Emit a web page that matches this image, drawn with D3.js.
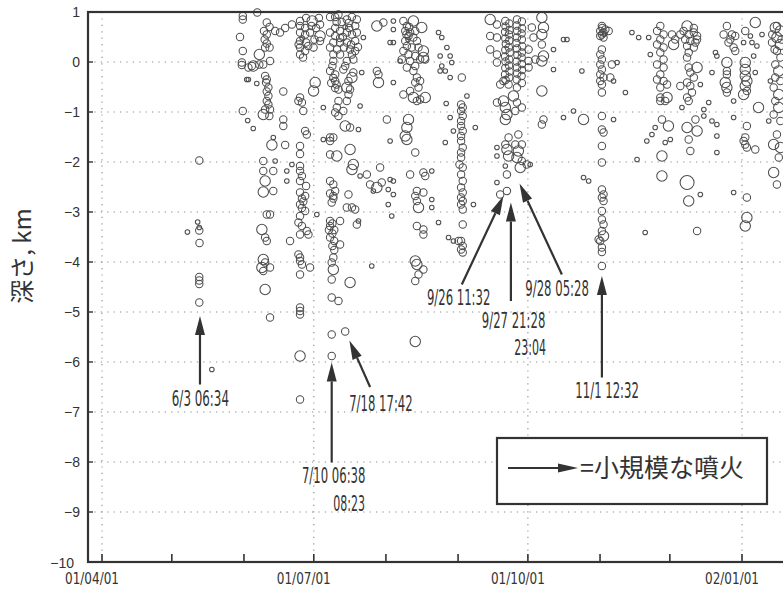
<!DOCTYPE html>
<html><head><meta charset="utf-8">
<script src="https://cdn.jsdelivr.net/npm/d3@7"></script>
<style>
html,body{margin:0;padding:0;background:#fff;}
svg{display:block;}
</style></head><body>
<svg id="chart" width="783" height="589"></svg>
<script>
// ---- data: [days since 2001-04-01, depth (km), size class] ----
const startDate = new Date(2001, 3, 1);
const swarmMay = [[36.7,-3.40,1],[41.1,-3.20,1],[41.8,-3.31,1],[41.8,-3.37,2],[41.9,-3.62,2],[41.8,-1.97,2],[41.8,-4.30,2],[41.8,-4.37,2],[41.8,-4.44,2],[41.8,-4.81,2],[47.2,-6.15,1]];
const swarmJune = [[60.5,0.92,2],[60.5,0.85,2],[66.7,0.99,2],[59.3,0.50,2],[60.5,0.22,2],[60.1,-0.01,2],[60.1,-0.06,2],[64.4,-0.08,2],[62.2,-0.35,1],[62.9,-0.35,1],[66.5,-0.43,1],[60.5,-0.98,2],[62.6,-1.17,1],[65.0,-1.33,1],
[70.8,0.79,2],[72.0,0.70,2],[69.6,0.62,2],[70.8,0.55,2],[69.9,0.45,2],[70.8,0.37,2],[70.1,0.29,2],[72.0,0.29,2],[67.6,0.15,3],[65.0,-0.08,3],[62.9,-0.11,2],[67.6,-0.05,2],[69.3,-0.05,2],[72.2,0.02,2],
[70.1,-0.28,2],[70.8,-0.35,2],[70.5,-0.41,2],[71.5,-0.51,2],[70.8,-0.59,2],[71.5,-0.68,2],[70.8,-0.78,2],[71.5,-0.85,2],[70.1,-0.95,2],[72.2,-0.95,2],[69.3,-1.05,3],[71.9,-1.08,2],
[77.9,-0.59,2],[77.9,-1.15,2],[77.9,-1.28,2],[73.6,-1.51,1],[73.0,-1.66,3],[78.7,-1.66,2],[74.4,0.62,2],[76.5,0.59,2],[78.7,0.68,2],[81.6,0.75,2],
[69.3,-1.98,2],[69.3,-2.18,2],[73.6,-2.18,2],[70.1,-2.38,3],[73.6,-2.58,2],[74.4,-1.98,1],[79.4,-2.18,1],[79.4,-2.38,1],[81.6,-2.05,1],
[69.3,-2.60,3],[70.8,-3.05,2],[72.2,-3.05,2],[68.7,-3.35,3],[70.1,-3.51,2],[70.8,-3.58,2],[69.3,-3.95,3],[70.1,-4.01,2],[68.7,-4.11,3],[72.2,-4.11,2],[69.3,-4.18,2],[70.1,-4.55,3],[72.2,-5.11,2]];
const swarmLateJune = [[85.1,0.82,2],[87.7,0.88,2],[90.3,0.82,3],[93.2,0.88,2],[85.1,0.72,2],[87.3,0.68,2],[90.0,0.72,2],[92.0,0.68,2],[93.7,0.75,2],[85.1,0.59,2],[87.3,0.55,2],[89.4,0.59,2],[93.7,0.52,3],[85.1,0.42,2],[87.7,0.39,2],[91.3,0.45,2],[93.7,0.42,2],[85.1,0.29,2],[87.3,0.22,2],[90.9,0.29,2],[85.1,0.15,2],[86.4,0.09,2],[84.5,0.35,2],[86.0,0.48,1],[88.6,0.32,2],
[91.6,-0.41,3],[90.9,-0.58,3],[85.1,-0.71,2],[84.4,-0.78,2],[85.9,-0.81,2],[86.5,-0.98,2],[95.1,-0.91,1],[87.3,-1.38,2],[88.0,-1.45,2],[85.1,-1.68,2],[85.1,-1.84,2],[85.1,-2.08,2],[85.1,-2.18,2],[85.9,-2.28,2],[85.1,-2.38,2],[87.7,-2.48,2],[85.1,-2.61,2],[87.3,-2.68,2],
[85.9,-2.73,2],[86.5,-2.79,2],[85.1,-2.85,2],[85.9,-2.92,2],[87.3,-2.98,2],[85.1,-3.08,2],[84.4,-3.21,2],[85.9,-3.28,2],[88.0,-3.38,2],[85.1,-3.45,2],[88.7,-3.45,2],[80.8,-3.58,2],[92.3,-3.05,1],
[84.4,-3.85,2],[85.1,-3.91,2],[85.1,-3.98,2],[85.9,-4.05,2],[89.4,-4.11,2],[85.1,-4.25,2],[85.1,-4.91,2],[85.1,-4.98,2],[85.1,-5.05,2],[85.1,-5.88,3],[85.1,-6.75,2]];
const swarmJuly = [[98.0,0.90,2],[100.2,0.90,2],[101.6,0.95,2],[105.2,0.85,2],[107.4,0.90,2],[109.5,0.85,2],[108.8,0.72,2],[106.2,0.68,2],[100.2,0.68,2],[102.3,0.62,2],[98.0,0.59,2],[100.2,0.52,2],[102.3,0.48,2],[105.2,0.59,2],[107.4,0.55,2],[109.5,0.59,2],[108.8,0.42,2],[105.2,0.39,2],[102.3,0.39,2],[99.4,0.39,2],[98.0,0.29,2],[101.0,0.25,2],[104.0,0.29,2],[106.6,0.25,2],[108.8,0.22,2],[99.4,0.15,2],[102.3,0.15,2],[107.4,0.15,2],[103.0,0.80,2],[104.5,0.70,1],[106.0,0.78,2],[100.8,0.80,2],[103.5,0.50,2],[107.0,0.35,2],[110.0,0.30,2],[108.0,0.05,2],
[99.4,0.02,2],[99.0,-0.08,2],[98.0,-0.18,2],[100.2,-0.25,2],[99.4,-0.32,2],[100.2,-0.38,2],[98.5,-0.42,2],[100.8,-0.45,2],[100.2,-0.52,2],[101.6,-0.55,2],[105.2,0.02,2],[104.5,-0.08,2],[103.7,-0.15,2],[108.0,-0.21,2],[107.4,-0.31,3],[105.9,-0.38,2],[105.2,-0.51,3],[106.6,-0.55,2],[111.6,-0.21,1],[112.3,0.49,1],[105.9,-0.65,2],[105.2,-0.78,2],[101.6,-0.78,2],[100.9,-0.91,2],[100.2,-1.01,2],[101.6,-1.08,2],[103.7,-0.98,2],[104.5,-1.28,3],[106.6,-1.31,2],[110.2,-1.35,1],[98.0,-1.51,2],[99.4,-1.51,2],[98.0,-1.58,2],[95.1,-1.55,1],[100.9,-1.88,3],[98.0,-1.85,2],[106.6,-1.75,3],[108.0,-2.05,3],[107.4,-2.15,3],[98.0,-2.38,2],[99.4,-2.45,2],[100.2,-2.58,2],[105.9,-2.65,2],[99.4,-2.68,2],[110.9,-2.28,1],[113.8,-2.25,2],[119.5,-2.11,2],[115.2,-2.45,2],[118.1,-2.51,3],[120.2,-2.41,2],[123.8,-2.35,1],[125.2,-2.38,1],[123.0,-2.55,1],[125.2,-2.65,1],[110.9,-0.88,1],
[98.0,-2.63,2],[99.4,-2.73,2],[98.7,-2.81,2],[98.0,-3.18,2],[99.0,-3.23,2],[98.0,-3.28,2],[99.8,-3.36,2],[97.5,-3.36,2],[99.0,-3.43,2],[98.0,-3.51,2],[99.8,-3.58,2],[99.0,-3.68,2],[99.8,-3.76,2],[102.3,-3.18,2],[102.3,-3.65,2],[105.2,-2.91,2],[107.4,-2.91,2],[108.8,-2.95,2],[109.5,-3.25,2],[110.2,-3.18,1],[99.4,-3.91,2],[98.7,-4.01,2],[99.4,-4.15,3],[98.7,-4.35,2],[106.6,-4.41,3],[98.7,-4.71,2],[101.6,-4.78,2],[98.7,-5.45,2],[104.5,-5.39,2],[98.7,-5.88,2],[115.9,-4.08,1],[123.0,-2.85,1],[124.5,-3.08,1],[116.6,-2.58,1],
[118.1,0.72,3],[120.9,0.79,2],[125.2,0.82,1],[125.2,0.65,1],[123.8,0.39,1],[125.2,0.39,1],[128.1,0.02,1],[118.1,-0.18,2],[118.8,-0.25,2],[118.8,-0.41,3],[125.2,-0.41,1],[122.4,-1.15,2],[123.8,-1.58,1]];
const swarmAugust = [[129.5,0.82,2],[133.8,0.82,3],[131.0,0.72,2],[130.3,0.62,2],[132.4,0.59,2],[134.6,0.62,2],[137.4,0.69,3],[131.7,0.52,2],[133.8,0.49,2],[130.3,0.42,2],[135.3,0.42,2],[131.0,0.32,2],[133.1,0.29,2],[136.0,0.29,2],[138.1,0.22,3],[129.5,0.22,2],[131.7,0.15,2],[134.6,0.12,2],[138.1,0.09,3],[128.8,0.05,2],[132.4,0.02,2],[136.7,0.05,2],[138.9,0.05,2],[131.0,-0.11,2],[134.6,-0.08,2],[133.8,-0.18,2],[135.3,-0.31,2],[136.7,-0.38,2],[134.6,-0.41,2],[136.0,-0.51,2],[132.4,-0.58,2],[129.5,-0.65,2],[133.8,-0.71,3],[136.7,-0.75,2],[138.9,-0.71,3],[135.3,-0.78,2],[130.8,0.55,2],[132.0,0.70,2],[131.5,0.45,1],
[144.6,0.59,1],[146.0,0.49,1],[148.2,0.29,1],[145.3,0.12,1],[149.6,0.12,1],[150.3,-0.01,1],[146.0,-0.08,1],[145.3,-0.18,1],[147.5,-0.18,1],[149.6,-0.31,1],[154.6,-0.31,2],[156.8,-0.68,1],[149.6,-1.11,1],[151.0,-1.38,1],[147.5,-1.61,1],[160.4,-1.31,1],[147.9,-0.83,1],
[154.3,-0.85,2],[155.0,-0.91,2],[154.3,-0.98,2],[155.0,-1.08,2],[154.3,-1.18,2],[154.3,-1.28,2],[155.0,-1.38,2],[154.3,-1.48,2],[154.3,-1.58,2],[155.0,-1.71,2],[154.3,-1.81,2],[154.3,-1.91,2],[153.6,-2.05,2],[155.0,-2.11,2],[154.3,-2.25,2],[155.0,-2.38,2],[154.3,-2.51,2],[155.0,-2.61,2],[154.3,-2.71,2],[155.0,-2.78,2],[154.3,-2.85,2],[155.0,-2.95,2],[155.0,-3.25,2],[154.3,-3.58,2],[155.0,-3.68,2],[154.3,-3.75,2],[155.0,-3.81,2],
[131.7,-1.15,3],[131.0,-1.31,3],[130.3,-1.48,3],[131.0,-1.55,3],[134.6,-1.81,2],[132.4,-2.25,2],[138.1,-2.21,2],[138.9,-2.28,2],[141.7,-2.18,1],[135.3,-2.58,2],[138.1,-2.61,2],
[134.6,-2.68,2],[135.3,-2.78,2],[136.0,-2.91,3],[141.7,-2.75,1],[141.7,-2.91,1],[159.6,-2.85,1],[135.3,-3.28,2],[138.1,-3.35,2],[138.1,-3.45,2],[144.6,-3.21,1],[148.9,-3.51,1],[151.0,-3.58,1],[153.2,-3.58,2],[134.6,-3.98,3],[135.3,-4.05,3],[138.1,-4.15,2],[136.0,-4.25,2],[134.6,-4.38,2],[134.6,-5.59,3]];
const swarmSeptember = [[166.8,0.85,3],[169.7,0.75,2],[166.8,0.52,2],[169.7,0.49,2],[166.8,0.25,2],[169.7,0.15,2],[169.7,-0.01,2],
[173.3,0.82,2],[175.0,0.77,2],[173.4,0.71,2],[175.1,0.64,2],[173.2,0.60,2],[174.9,0.55,2],[173.3,0.47,2],[175.0,0.43,2],[173.5,0.36,2],[174.8,0.29,2],[173.3,0.24,2],[175.2,0.19,2],[173.2,0.11,2],[175.0,0.05,2],[173.4,0.01,2],[174.9,-0.07,2],[173.3,-0.12,2],[175.1,-0.19,2],[173.2,-0.25,2],[175.0,-0.31,2],[173.4,-0.36,2],
[178.3,0.85,2],[180.4,0.81,2],[178.2,0.73,2],[180.5,0.67,2],[178.4,0.62,2],[180.3,0.57,2],[178.3,0.49,2],[180.4,0.45,2],[178.1,0.38,2],[180.6,0.31,2],[178.3,0.27,2],[180.4,0.19,2],[178.5,0.14,2],[180.3,0.09,2],[178.2,0.01,2],[180.4,-0.04,2],[178.3,-0.11,2],[180.5,-0.16,2],[178.4,-0.23,2],[180.3,-0.28,2],[178.2,-0.35,2],[180.4,-0.42,2],[178.3,-0.51,2],
[184.7,0.69,2],[185.4,0.49,2],[183.3,0.25,2],[183.3,0.02,2],[183.3,-0.11,2],[189.0,0.89,3],[189.7,0.69,3],[189.0,0.55,3],[189.0,0.35,2],[189.7,0.12,3],[189.0,0.02,3],[186.2,0.05,2],[189.0,-0.58,3],[194.0,0.25,1],[198.3,0.45,1],[199.8,0.45,1],[194.0,-0.15,1],[206.2,-0.18,1],
[169.7,-0.81,2],[172.5,-0.78,3],[173.3,-0.91,3],[174.0,-1.05,3],[173.3,-1.15,3],[176.8,-0.68,3],[178.3,-0.81,2],[180.4,-0.91,2],[177.6,-0.98,2],[171.1,-0.45,2],[172.5,-0.38,2],[174.7,-0.45,2],
[174.7,-1.51,2],[178.9,-1.45,2],[173.3,-1.65,2],[177.6,-1.65,2],[180.4,-1.65,2],[169.7,-1.71,1],[174.0,-1.75,3],[178.9,-1.78,3],[174.7,-1.88,3],[169.7,-1.88,1],[178.3,-1.91,3],[180.4,-1.98,2],[182.5,-2.05,2],[173.3,-2.08,1],[179.7,-2.11,3],[184.0,-2.05,1],[174.0,-2.25,2],[169.7,-2.41,1],[171.1,-2.65,2],[174.0,-2.58,2],
[202.6,-0.98,1],[198.3,-1.11,1],[206.9,-1.15,3],[189.7,-1.15,2],[189.0,-1.25,2],[206.9,-2.31,1],[209.1,-2.38,1]];
const swarmNovember = [[214.8,0.72,2],[214.1,0.62,2],[215.5,0.59,2],[214.8,0.55,2],[216.3,0.65,2],[217.7,0.62,2],[214.1,0.52,2],[215.5,0.49,2],[215.0,0.68,2],[216.0,0.56,1],[214.8,0.25,2],[214.1,0.15,2],[214.8,0.05,2],[214.1,-0.05,2],[214.8,-0.15,2],[214.1,-0.25,2],[215.5,-0.31,2],[214.1,-0.38,2],[214.8,-0.45,2],[214.8,-0.61,2],[219.1,-0.05,2],[221.3,-0.01,1],[218.4,-0.31,2],[219.8,-0.38,1],[214.8,-1.08,2],[214.8,-1.35,2],[215.5,-1.41,2],[214.8,-1.68,2],[214.8,-2.01,2],[219.8,-1.15,1],
[214.8,-2.55,2],[215.5,-2.65,2],[214.8,-2.71,2],[215.5,-2.78,2],[214.8,-2.98,2],[214.8,-3.15,2],[215.5,-3.25,2],[214.8,-3.38,2],[215.5,-3.48,3],[214.1,-3.58,2],[214.8,-3.71,2],[214.8,-4.08,2],[213.4,-3.55,2],[214.8,-3.80,2],
[224.9,-0.61,1],[227.7,0.59,1],[230.6,0.49,1],[234.9,0.49,1],[235.6,0.15,1],[229.9,-1.95,1],[233.4,-3.41,1],[234.1,-1.58,1]];
const swarmDecember = [[239.9,0.72,2],[238.5,0.62,2],[241.3,0.55,2],[239.9,0.45,2],[238.5,0.35,2],[241.3,0.29,2],[239.9,0.19,2],[241.3,0.05,2],[238.5,-0.05,2],[241.3,-0.11,2],[239.9,-0.25,2],[238.5,-0.35,2],[241.3,-0.38,2],[242.8,-0.45,2],[239.9,-0.51,2],[239.9,-0.71,2],[239.9,-0.78,2],[242.8,-0.71,3],[242.0,-0.78,2],
[244.9,0.55,2],[245.6,0.35,3],[248.5,0.55,2],[246.3,0.45,2],[240.6,-1.15,2],[243.4,-1.28,3],[237.7,-1.31,1],[236.3,-1.45,1],[242.0,-1.61,1],[244.2,-1.55,1],[240.6,-1.88,3],[240.6,-2.28,3],
[251.4,0.72,3],[249.9,0.62,2],[252.1,0.55,2],[254.3,0.59,2],[255.7,0.52,2],[250.6,0.45,2],[252.8,0.42,2],[255.0,0.39,2],[251.4,0.32,2],[254.3,0.29,2],[252.1,0.19,2],[251.4,0.09,2],[255.7,-0.11,3],[252.1,-0.11,2],[252.8,-0.21,2],[254.3,-0.31,2],[251.4,-0.41,2],[252.8,-0.48,2],[248.5,-0.48,2],[253.5,-0.61,2],[251.4,-0.71,2],[252.1,-0.78,2],[249.2,-0.91,1],[254.3,0.68,2],[255.7,0.45,2],
[257.1,-0.45,1],[251.4,-1.31,3],[255.0,-1.15,2],[255.7,-1.38,3],[252.1,-1.55,2],[252.8,-1.78,2],[258.6,-1.08,1],[260.7,-0.81,1],[258.6,-0.95,1],[262.1,-1.18,1],[264.2,-1.25,1],[262.1,-0.21,1],[263.6,0.19,1],[264.2,0.12,1],[264.2,-1.48,1],[264.2,-1.81,1],[251.4,-2.41,4],[252.1,-2.78,3],[257.1,-2.65,1],[255.7,-3.38,2]];
const swarmJanuary = [[268.5,0.72,2],[267.1,0.55,2],[270.7,0.55,2],[272.1,0.52,2],[269.2,0.39,2],[271.4,0.29,2],[272.1,0.22,2],[268.5,-0.01,3],[268.5,-0.18,2],[268.5,-0.25,2],[267.8,-0.41,3],[268.5,-0.51,3],[268.5,-0.61,2],[271.4,-0.78,1],[270.0,0.45,2],
[280.7,0.79,3],[276.4,0.62,2],[278.6,0.52,1],[275.7,0.39,1],[279.3,0.39,1],[283.6,0.55,1],[281.4,0.32,1],[280.0,0.12,1],
[276.4,-0.01,3],[276.4,-0.15,3],[276.4,-0.28,3],[277.1,-0.38,3],[276.4,-0.48,3],[277.1,-0.58,2],[275.7,-0.65,3],[280.7,-0.21,1],[282.1,-0.91,3],[271.4,-1.11,1],[277.1,-1.28,2],[276.4,-1.51,2],[275.7,-1.58,2],[276.4,-1.65,2],[277.1,-1.71,2],[280.7,-1.75,2],[271.4,-2.61,1],[277.1,-2.71,2],[277.1,-3.11,3],[276.4,-3.28,3],
[289.3,0.69,3],[291.5,0.62,3],[290.0,0.49,3],[287.9,0.39,2],[291.5,0.35,3],[290.0,0.22,2],[291.5,0.09,2],[289.3,-0.05,2],[290.8,-0.18,3],[289.3,-0.31,2],[291.5,-0.38,2],[288.6,-0.51,2],[290.8,-0.65,3],[289.3,-0.78,2],[290.8,-0.91,3],[288.6,-1.05,2],[291.5,-1.18,2],[290.0,-1.45,2],[288.6,-1.65,3],[291.5,-1.71,3],[290.8,-1.91,2],[288.6,-2.21,3],[290.0,-2.45,2],[288.0,0.55,2],[290.0,0.72,2],[292.0,0.45,2],[289.0,0.25,2],[287.2,-0.38,1],[286.5,-1.18,1]];

// eruption arrows (tip / tail in [day, depth])
const arrowTips  = [[42.1,-5.08],[98.7,-6.01],[106.3,-5.57],[172.5,-2.68],[175.7,-2.81],[179.4,-2.43],[214.8,-4.28]];
const arrowTails = [[42.1,-6.45],[98.7,-8.01],[115.2,-6.50],[154.6,-4.45],[175.7,-4.78],[197.6,-4.25],[214.8,-6.31]];
const labelTexts = ["6/3 06:34","7/10 06:38","08:23","7/18 17:42","9/26 11:32","9/27 21:28","23:04","9/28 05:28","11/1 12:32"];
const labelAt    = [[30.0,-6.88],[85.9,-8.41],[99.4,-8.97],[106.2,-6.97],[139.6,-4.85],[163.2,-5.31],[177.1,-5.85],[181.9,-4.68],[203.4,-6.71]];

const yTicks = [1,0,-1,-2,-3,-4,-5,-6,-7,-8,-9,-10];
const xLabelDates = [new Date(2001,3,1), new Date(2001,6,1), new Date(2001,9,1), new Date(2002,0,1)];
const yTitle = "深さ, km";
const legendText = "=小規模な噴火";

// ---- drawing ----
(function () {
const W = 783, H = 589;
const svg = d3.select("#chart");
const x = d3.scaleTime().domain([new Date(2001,3,1), new Date(2002,0,1)]).range([102, 742]);
const y = d3.scaleLinear().domain([-10, 1]).range([562, 12]);
const toDate = d => new Date(startDate.getTime() + d * 864e5);
const rSize = d3.scaleOrdinal().domain([1,2,3,4]).range([2.3,3.7,5.2,7]);
const ink = "#333";
const narrow = "'Liberation Sans Narrow','DejaVu Sans Condensed','Arial Narrow',sans-serif";
const pL = 88, pR = W + 20, pT = 12, pB = 562;

// grid
const grid = svg.append("g").attr("stroke","#8a8a8a").attr("stroke-width",1.1).attr("stroke-dasharray","1.2,5.2");
grid.selectAll("line.h").data(yTicks.filter(v => v > -10 && v < 1)).enter().append("line")
  .attr("x1", pL).attr("x2", pR).attr("y1", d => y(d)).attr("y2", d => y(d));
grid.selectAll("line.v").data(xLabelDates).enter().append("line")
  .attr("x1", d => x(d)).attr("x2", d => x(d)).attr("y1", pT).attr("y2", pB);

// points
const allQuakes = [].concat(swarmMay, swarmJune, swarmLateJune, swarmJuly, swarmAugust, swarmSeptember, swarmNovember, swarmDecember, swarmJanuary);
svg.append("g").selectAll("circle").data(allQuakes).enter().append("circle")
  .attr("cx", d => x(toDate(d[0]))).attr("cy", d => y(d[1])).attr("r", d => rSize(d[2]))
  .attr("fill","none").attr("stroke","#4d4d4d").attr("stroke-width",1.05);

// frame
svg.append("rect").attr("x", pL).attr("y", pT).attr("width", pR - pL).attr("height", pB - pT)
  .attr("fill","none").attr("stroke", ink).attr("stroke-width", 2.2);

// x ticks (monthly, inward)
const months = d3.timeMonth.range(new Date(2001,3,1), new Date(2002,1,2));
svg.append("g").selectAll("line").data(months).enter().append("line")
  .attr("x1", d => x(d)).attr("x2", d => x(d)).attr("y1", pB).attr("y2", pB - 8)
  .attr("stroke", ink).attr("stroke-width", 1.6);
const fmt = d3.timeFormat("%y/%m/%d");
svg.append("g").selectAll("text").data(xLabelDates).enter().append("text")
  .attr("x", d => x(d) - 10).attr("y", 584).attr("text-anchor","middle")
  .attr("font-family", narrow).attr("font-size", 16.5).attr("fill", ink)
  .attr("textLength", 54).attr("lengthAdjust","spacingAndGlyphs")
  .text(d => fmt(d));

// y ticks (inward)
svg.append("g").selectAll("line").data(yTicks).enter().append("line")
  .attr("x1", pL).attr("x2", pL + 5).attr("y1", d => y(d)).attr("y2", d => y(d))
  .attr("stroke", ink).attr("stroke-width", 1.4);
svg.append("g").selectAll("text").data(yTicks).enter().append("text")
  .attr("x", d => d === -10 ? 74 : 80).attr("y", d => y(d) + (d === -10 ? 1 : 0))
  .attr("dy","0.36em").attr("text-anchor","end")
  .attr("font-family","'Liberation Sans',Arial,sans-serif").attr("font-size", 14).attr("fill", ink)
  .text(d => d < 0 ? "\u2212" + Math.abs(d) : String(d));

// y title
svg.append("text").attr("transform","translate(20,256) rotate(-90)")
  .attr("text-anchor","middle").attr("dominant-baseline","central")
  .attr("font-family","'Noto Sans CJK JP','Noto Sans CJK SC',sans-serif").attr("font-size", 24).attr("fill", ink)
  .text(yTitle);

// arrows
function arrow(g, x1, y1, x2, y2, headLen, headHalf, sw) {
  const a = Math.atan2(y2 - y1, x2 - x1);
  const bx = x2 - headLen * Math.cos(a), by = y2 - headLen * Math.sin(a);
  g.append("line").attr("x1", x1).attr("y1", y1).attr("x2", bx).attr("y2", by)
    .attr("stroke", ink).attr("stroke-width", sw);
  const px = -Math.sin(a) * headHalf, py = Math.cos(a) * headHalf;
  g.append("path").attr("d", `M${x2},${y2}L${bx + px},${by + py}L${bx - px},${by - py}Z`).attr("fill", ink);
}
const ag = svg.append("g");
arrowTips.forEach((t, i) => {
  const s = arrowTails[i];
  arrow(ag, x(toDate(s[0])), y(s[1]), x(toDate(t[0])), y(t[1]), 19, 5, 2.2);
});
svg.append("g").selectAll("text").data(labelTexts).enter().append("text")
  .attr("x", (d, i) => x(toDate(labelAt[i][0]))).attr("y", (d, i) => y(labelAt[i][1]))
  .attr("font-family", narrow).attr("font-size", 21).attr("fill", ink)
  .attr("textLength", d => d.length * 6.35).attr("lengthAdjust","spacingAndGlyphs")
  .text(d => d);

// legend
const lg = svg.append("g");
lg.append("rect").attr("x", 497).attr("y", 438).attr("width", 270).attr("height", 66)
  .attr("fill","#fff").attr("stroke", ink).attr("stroke-width", 2.2);
arrow(lg, 508, 468, 578, 468, 20, 4.5, 2.2);
lg.append("text").attr("x", 580).attr("y", 477)
  .attr("font-family","'Noto Sans CJK JP','Noto Sans CJK SC',sans-serif").attr("font-size", 25).attr("fill", ink)
  .text(legendText);
})();
</script>
</body></html>
